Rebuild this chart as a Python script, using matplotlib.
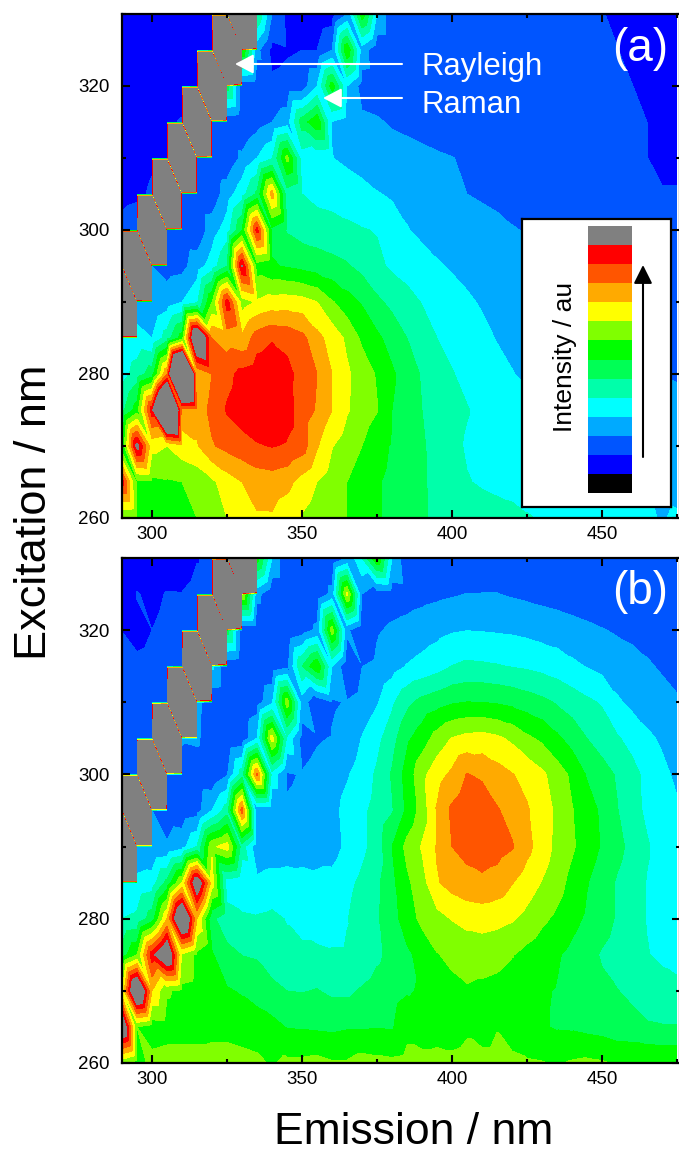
import numpy as np
import matplotlib
matplotlib.use('Agg')
import matplotlib.pyplot as plt
import matplotlib.tri as mtri
from matplotlib.colors import ListedColormap, BoundaryNorm
from matplotlib.ticker import MultipleLocator

plt.rcParams['font.family'] = ['Liberation Sans', 'DejaVu Sans']

G = 160  # saturated scatter points

emission = list(range(290, 480, 5))
excitation = list(range(260, 335, 5))

# level units, floor(value) is the colour index, one row per excitation 260..330
z_a = [
    [8,7.8,7.5,7.6,7.7,8,8.7,9,9.6,9.9, 9.9,9.4,8.9,8.5,8.2,8,7.5,7.1,6.75,6.4, 6.1,5.85,5.7,5.55,5.4,5.3,5.2,5.05,4.95,4.85, 4.7,4.6,4.5,4.3,4.2,4.1,3.95,4.1],
    [12.5,7.7,7.8,7.9,8,8.3,8.8,9.5,10,10.4, 10.5,10.3,9.6,9,8.5,8,7.5,7.1,6.75,6.45, 6.1,5.75,5.35,5.05,4.9,4.8,4.75,4.7,4.6,4.5, 4.45,4.4,4.3,4.2,4.1,4,3.8,3.7],
    [7,13.5,9.3,9,9.6,9.9,10.9,11.3,11.6,11.9, 12.05,11.9,11.5,10.1,9.05,8.5,8,7.4,6.9,6.5, 6.1,5.7,5.25,4.9,4.7,4.6,4.5,4.45,4.4,4.35, 4.3,4.2,4.1,4.05,3.95,3.8,3.6,3.5],
    [5.7,7.5,12.6,20,10.5,10.4,11.3,12.1,12.5,12.8, 12.9,12.4,11.5,10.9,10,9.1,8.5,8.05,7,6.5, 6,5.65,5.3,5.05,4.8,4.65,4.5,4.4,4.3,4.2, 4.15,4.1,4,3.9,3.8,3.6,3.4,3.3],
    [4.5,5.5,6.5,11,22,10,11,11.7,12.3,12.6, 12.8,12.3,11.6,11,10,9.15,8.55,7.9,7.15,6.5, 5.9,5.5,5.05,4.75,4.5,4.3,4.05,3.8,3.6,3.5, 3.4,3.3,3.25,3.2,3.1,3.05,3,2.9],
    [4,4.3,4,5.5,7.5,16,11,10.5,10.2,11.5, 11.9,11.7,11.3,10.3,9.6,8.8,7.8,7.2,6.6,6, 5.5,5,4.75,4.5,4.25,3.95,3.7,3.5,3.4,3.3, 3.2,3.15,3.1,3,2.9,2.85,2.8,2.7],
    [G,3.5,3,3.5,4,4.8,8,12.5,8.5,9.1, 9.4,9.5,9.4,9,8.1,7.4,6.9,6.2,5.75,5.35, 4.95,4.65,4.4,4.15,3.9,3.7,3.55,3.4,3.3,3.2, 3.1,3.05,3,2.9,2.8,2.7,2.6,2.5],
    [3,G,3,2.6,2.7,3.5,4.5,6,13.1,7.5, 7.1,6.9,6.7,6.5,6.3,6.1,5.7,5.2,4.85,4.6, 4.35,4.1,3.9,3.7,3.55,3.4,3.3,3.2,3.1,3.05, 3,2.95,2.9,2.8,2.7,2.6,2.5,2.4],
    [2.5,3,G,3,2.4,2.3,3.5,4.5,7,12.4, 6.7,5.9,5.6,5.5,5.4,5.2,5.05,4.95,4.4,4.05, 3.8,3.6,3.5,3.4,3.3,3.2,3.05,2.95,2.85,2.8, 2.75,2.7,2.6,2.55,2.5,2.45,2.4,2.3],
    [1.5,1.7,2.2,G,2.5,2.3,2.4,3.5,4.6,6.2, 10.5,5.5,5,4.7,4.6,4.5,4.3,4.05,3.9,3.7, 3.6,3.5,3.2,3,2.9,2.8,2.7,2.6,2.5,2.45, 2.4,2.35,2.3,2.25,2.2,2.15,2.1,2.1],
    [1.2,1.4,1.8,2,G,2.4,2.2,2.3,3.2,4, 4.9,8.3,4.5,4.2,4.02,3.8,3.6,3.5,3.4,3.3, 3.2,3.1,3.02,2.9,2.8,2.7,2.6,2.5,2.4,2.35, 2.3,2.25,2.2,2.15,2.1,2.02,1.7,1.7],
    [1.1,1.2,1.3,1.8,2.1,G,2.1,2.3,2.1,2.6, 3,3.5,6.5,7.8,3.95,3.5,3.2,3.1,2.9,2.8, 2.7,2.6,2.55,2.5,2.45,2.4,2.35,2.3,2.25,2.2, 2.15,2.1,2.08,2.06,2.04,2,1.5,1.5],
    [1,1.1,1.1,1.2,1.3,1.9,G,6.5,2.3,2.2, 2.2,2.3,2.4,4,7.5,4,2.6,2.5,2.5,2.45, 2.45,2.4,2.4,2.35,2.35,2.3,2.3,2.25,2.25,2.2, 2.2,2.15,2.1,2.05,2.02,1.7,1.5,1.4],
    [1,1,1,1,1.1,1.2,1.8,G,8,3.3, 1.7,1.9,2,2,3,7.9,3.5,2.3,2.2,2.15, 2.15,2.15,2.1,2.1,2.1,2.1,2.1,2.1,2.05,2.05, 2.05,2.05,2.05,2.03,1.7,1.5,1.4,1.3],
    [1,1,1,1,1,1.1,1.2,1.9,G,6, 3,1.8,1.3,1.3,1.5,3,7.6,4,2.3,2.1, 2.1,2.1,2.1,2.1,2.1,2.1,2.05,2.05,2.05,2.05, 2.05,2.05,2.05,1.8,1.6,1.4,1.3,1.3],
]

z_b = [
    [8.3,7.5,8.3,8.4,8.4,8.4,8.4,8.4,8.3,8.2, 7.9,8.2,8.2,8.3,8.1,8.1,8.4,8.3,8.2,8.3, 8.3,8.3,8.2,8.3,8.3,8.3,8.2,8.1,8.05,7.9, 8.1,8.2,8.1,7.9,7.9,7.9,7.9,7.9],
    [15,8,7.5,7.6,7.6,7.6,7.7,7.7,7.6,7.5, 7.3,6.95,6.9,6.85,6.8,6.9,6.9,6.95,6.9,7.7, 7.5,7.6,7.6,7.85,7.6,7.95,7.6,7.3,7.1,6.9, 6.85,6.7,6.6,6.4,6.3,6.1,6.05,6.05],
    [9,16,10,8.1,7.8,7.7,7.5,7.1,6.9,6.6, 6.3,6,5.95,6.05,5.8,5.8,6.1,6.4,6.6,6.9, 7.1,7.5,7.75,7.9,7.8,7.7,7.5,7.3,7.1,6.95, 6.6,6.4,6.2,6.03,5.8,5.5,5.4,5.3],
    [6.5,8,12.6,15,8.8,7.8,7.1,6.3,5.98,5.9, 5.4,5.2,5.2,5.2,5.1,5.1,5.3,5.8,6.3,6.8, 7.35,7.95,8.2,8.4,8.4,8.3,8.05,7.7,7.4,7.1, 6.75,6.35,5.9,5.6,5.3,5.05,4.8,4.6],
    [5,5.2,6.5,10,16,10,6.2,5.4,5.2,5.1, 5.2,4.95,4.7,4.5,4.6,4.95,5.45,5.9,6.6,7.5, 8.25,8.65,9.05,9.3,9.4,9.3,9.1,8.7,8.2,7.8, 7.3,6.85,6.4,5.9,5.45,4.95,4.6,4.3],
    [4,4.3,4.5,6.3,9,14.5,9.5,4.5,4.1,4.2, 4.4,4.4,4.3,4.2,4.3,4.75,5.2,5.8,6.75,7.8, 8.6,9.9,10.4,10.7,10.8,10.6,10.05,9.5,8.95,8.4, 7.7,7.05,6.5,5.9,5.45,4.95,4.6,4.3],
    [G,3.1,3,3.1,3.6,5,8.8,9.5,5.5,3.3, 3.4,3.5,3.6,3.65,3.6,4.2,4.75,5.4,7,8.3, 9.1,10.1,11,11.3,11.5,11.4,11.1,10.3,9.5,8.75, 8.15,7.5,6.9,6.3,5.7,5.1,4.6,4.3],
    [3,G,3,2.5,2.4,2.6,4,5.5,11.5,3.1, 3.05,3.1,3.2,3.4,3.7,4.3,4.8,5.3,5.9,7.2, 8.4,10.1,11.2,11.7,11.8,11.1,10.6,10.1,9.5,8.8, 8.05,7.5,6.8,6.05,5.4,4.8,4.4,4.15],
    [2.5,2.7,G,3,2.6,2.3,2.2,2.9,5.5,11.3, 4.6,2.9,3.05,3.3,3.5,3.9,4.45,5.15,6.1,7.4, 8.7,9.6,10.2,11.05,10.8,10.4,10.05,9.7,9.2,8.5, 7.8,6.9,6.4,5.9,5.3,4.75,4.25,3.8],
    [2.2,2.5,2.8,G,3.1,3.2,2.2,2.1,2.3,4, 9.5,4.8,2.6,2.9,3.05,3.3,4.05,4.7,5.6,6.8, 7.5,8.4,9.05,9.3,9.4,9.2,8.8,8.2,7.8,7.2, 6.6,6,5.55,5.1,4.7,4.2,3.85,3.5],
    [2.2,2.2,2.3,2.7,G,3.3,2.2,2.1,2.1,2.5, 3.8,8.6,3.5,2.2,2.9,3.05,3.3,3.9,4.8,5.75, 6.3,6.6,6.9,7.02,7,6.9,6.75,6.5,6.25,5.9, 5.55,5.2,4.9,4.15,3.75,3.5,3.3,3.1],
    [2.1,2.2,2.3,2.4,2.9,G,4.2,2.2,2.1,2.1, 2.2,2.7,6,7.9,4,2.2,2.98,3.2,3.6,4.05, 4.3,4.6,5.02,5.2,5.15,5.07,4.95,4.85,4.7,4.5, 4.2,3.95,3.7,3.5,3.3,3.1,2.9,2.7],
    [1.98,1.7,2,2.2,2.2,2.2,G,6.5,2.2,2.1, 2.1,2.1,2.5,3.2,8.5,3.2,2.1,2.9,3.15,3.3, 3.5,3.7,3.9,3.98,3.95,3.9,3.85,3.75,3.6,3.5, 3.35,3.2,3.05,2.9,2.8,2.7,2.6,2.5],
    [1.3,2.05,1.8,2.05,2.03,2.3,2.3,G,9,3.3, 2.2,2.1,2.1,2.2,3.3,9.3,3,2.4,2.5,2.6, 2.7,2.8,2.9,3.02,3.02,3.02,2.9,2.8,2.7,2.6, 2.5,2.4,2.3,2.25,2.2,2.15,2.1,2.05],
    [1.3,1.3,1.3,1.4,1.5,1.95,2.2,2.5,G,7.5, 4,2,2,2,2,3,5,8,4,2.2, 2.2,2.2,2.3,2.3,2.4,2.4,2.3,2.3,2.2,2.2, 2.1,2.1,2.1,2.1,2.1,2.05,2.05,2.05],
]

colours = ['#000000', '#0000ff', '#0055ff', '#00aaff', '#00ffff', '#00ffaa', '#00ff55',
           '#00ff00', '#80ff00', '#ffff00', '#ffaa00', '#ff5500', '#ff0000', '#808080']
levels = list(range(14)) + [1e5]

W, H = 679, 1153
DPI = 100


def rect(left, top, right, bottom):
    return [left / W, 1 - bottom / H, (right - left) / W, (bottom - top) / H]


def fpt(x, y):
    return (x / W, 1 - y / H)


nx, ny = len(emission), len(excitation)
ex_grid, em_grid = np.meshgrid(excitation, emission, indexing='ij')
tris = []
for j in range(ny - 1):
    for i in range(nx - 1):
        a = j * nx + i
        tris.append([a, a + 1, a + nx])
        tris.append([a + 1, a + nx + 1, a + nx])
tri = mtri.Triangulation(em_grid.ravel(), ex_grid.ravel(), tris)

fig = plt.figure(figsize=(W / DPI, H / DPI), dpi=DPI)


def panel(box, z):
    ax = fig.add_axes(box)
    ax.tricontourf(tri, np.array(z, dtype=float).ravel(), levels=levels, colors=colours)
    ax.set_xlim(290, 476)
    ax.set_ylim(260, 330)
    ax.xaxis.set_major_locator(MultipleLocator(50))
    ax.xaxis.set_minor_locator(MultipleLocator(25))
    ax.yaxis.set_major_locator(MultipleLocator(20))
    ax.yaxis.set_minor_locator(MultipleLocator(10))
    ax.tick_params(which='major', direction='in', top=True, right=True, length=6, width=1.5, labelsize=13.5)
    ax.tick_params(which='minor', direction='in', top=True, right=True, length=3, width=1.5)
    ax.tick_params(axis='x', which='major', pad=6)
    ax.tick_params(axis='y', which='major', pad=9)
    for s in ax.spines.values():
        s.set_linewidth(1.6)
    return ax


ax_a = panel(rect(122, 14, 680, 518), z_a)
ax_b = panel(rect(122, 558, 680, 1063), z_b)

fig.text(668 / W, 1 - 49 / H, '(a)', color='white', fontsize=33, ha='right', va='center')
fig.text(668 / W, 1 - 592 / H, '(b)', color='white', fontsize=33, ha='right', va='center')

# Rayleigh / Raman labels
for name, ty, base, tip in [('Rayleigh', 64, 75, 235), ('Raman', 98, 113, 323)]:
    fig.text(421 / W, 1 - base / H, name, color='white', fontsize=22.4, va='baseline', ha='left')
    ax_a.annotate('', xy=fpt(tip, ty), xytext=fpt(402, ty), xycoords='figure fraction',
                  textcoords='figure fraction',
                  arrowprops=dict(arrowstyle='-|>,head_width=0.42,head_length=0.8', color='white', lw=1.5,
                                  shrinkA=0, shrinkB=0, mutation_scale=14))

# intensity key
key = fig.add_axes(rect(522, 219, 671, 507))
key.set_xticks([])
key.set_yticks([])
for s in key.spines.values():
    s.set_linewidth(1.6)
bar = fig.add_axes(rect(588, 226, 632, 493))
bar.pcolormesh([0, 1], levels[:14] + [14], np.arange(14).reshape(-1, 1),
               cmap=ListedColormap(colours), norm=BoundaryNorm(np.arange(15) - 0.5, 14))
bar.axis('off')
fig.text(565 / W, 1 - 357 / H, 'Intensity / au', rotation=90, fontsize=19, ha='center', va='center')
key.annotate('', xy=fpt(643, 265), xytext=fpt(643, 457), xycoords='figure fraction',
             textcoords='figure fraction',
             arrowprops=dict(arrowstyle='-|>,head_width=0.4,head_length=0.8', color='black', lw=1.5,
                             shrinkA=0, shrinkB=0, mutation_scale=14))

fig.text(35 / W, 1 - 512 / H, 'Excitation / nm', rotation=90, fontsize=32.5, ha='center', va='center')
fig.text(414 / W, 1 - 1133 / H, 'Emission / nm', fontsize=32, ha='center', va='center')

fig.savefig('out.png', dpi=DPI)
